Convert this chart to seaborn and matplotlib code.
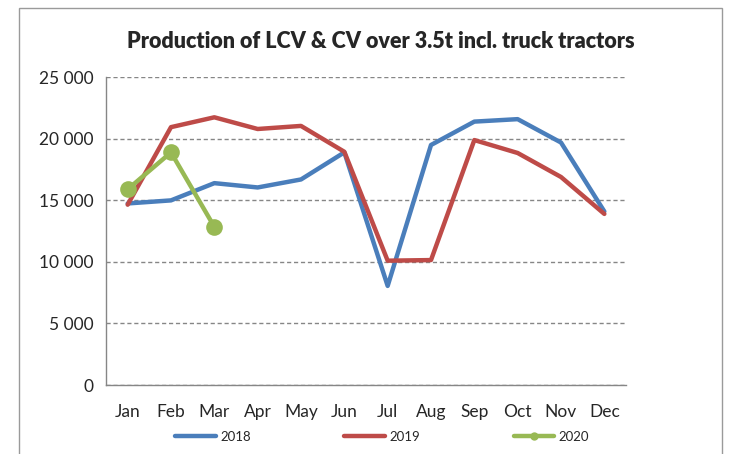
import pandas as pd
import numpy as np
import matplotlib
matplotlib.use('Agg')
import matplotlib.pyplot as plt
import matplotlib.patches as mpatches
from matplotlib.ticker import FuncFormatter, FixedLocator
from matplotlib.lines import Line2D
import seaborn as sns

months = ['Jan', 'Feb', 'Mar', 'Apr', 'May', 'Jun', 'Jul', 'Aug', 'Sep', 'Oct', 'Nov', 'Dec']
prod_2018 = [14750, 15000, 16400, 16050, 16700, 18900, 8050, 19500, 21400, 21600, 19700, 14100]
prod_2019 = [14650, 20950, 21750, 20800, 21050, 18950, 10100, 10150, 19900, 18850, 16900, 13900]
prod_2020 = [15900, 18900, 12850]

colors = {'2018': '#4A7EBB', '2019': '#BE4B48', '2020': '#98B954'}

# long-form table for seaborn
rows = []
for year, vals in [('2018', prod_2018), ('2019', prod_2019), ('2020', prod_2020)]:
    for i, v in enumerate(vals):
        rows.append({'month': i, 'year': year, 'value': v})
df = pd.DataFrame(rows)

sns.set_style('white')
plt.rcParams['font.family'] = ['Lato', 'DejaVu Sans']

fig = plt.figure(figsize=(7.31, 4.54), dpi=100)
ax = fig.add_axes([106 / 731, 1 - 385 / 454, 520 / 731, 307.7 / 454])

# outer chart frame
fig.patches.append(mpatches.Rectangle((19 / 731, -0.05), (722 - 19) / 731, (1 - 8 / 454) + 0.05,
                                      transform=fig.transFigure, fill=False,
                                      edgecolor='#9A9A9A', linewidth=1))

sns.lineplot(data=df[df['year'] != '2020'], x='month', y='value', hue='year',
             palette=colors, linewidth=3.2, ax=ax, legend=False)
sns.lineplot(data=df[df['year'] == '2020'], x='month', y='value', color=colors['2020'],
             linewidth=3.2, marker='o', markersize=12, markeredgewidth=0, ax=ax, legend=False)

ax.set_xlim(-0.5, 11.5)
ax.set_ylim(0, 25000)
ax.set_yticks(range(0, 25001, 5000))
ax.yaxis.set_major_formatter(FuncFormatter(lambda v, p: f'{int(v):,}'.replace(',', ' ')))
ax.yaxis.grid(True, linestyle=(0, (3, 2)), color='#868686', linewidth=1)
ax.xaxis.grid(False)

ax.xaxis.set_major_locator(FixedLocator(np.arange(-0.5, 12, 1)))
ax.xaxis.set_minor_locator(FixedLocator(np.arange(12)))
ax.set_xticklabels([])
ax.set_xticklabels(months, minor=True)
ax.tick_params(axis='x', which='major', length=5, color='#868686', width=1, direction='out')
ax.tick_params(axis='x', which='minor', length=0, pad=14, labelsize=12.5)
ax.tick_params(axis='y', length=5, color='#868686', width=1, direction='out', pad=4, labelsize=12.5)
ax.set_xlabel('')
ax.set_ylabel('')

for s in ['top', 'right']:
    ax.spines[s].set_visible(False)
for s in ['left', 'bottom']:
    ax.spines[s].set_color('#868686')
    ax.spines[s].set_linewidth(1)

fig.text(381 / 731, 1 - 42 / 454, 'Production of LCV & CV over 3.5t incl. truck tractors',
         ha='center', va='center', fontsize=15.5, fontweight='heavy')

handles = [Line2D([], [], color=colors['2018'], lw=3.2),
           Line2D([], [], color=colors['2019'], lw=3.2),
           Line2D([], [], color=colors['2020'], lw=3.2, marker='o', markersize=6, markeredgewidth=0)]
fig.legend(handles, ['2018', '2019', '2020'], loc='center', bbox_to_anchor=(382 / 731, 1 - 437 / 454),
           ncol=3, frameon=False, fontsize=9.5, handlelength=3.1, handletextpad=0.3,
           columnspacing=7.1)

fig.savefig('out.png', dpi=100)
